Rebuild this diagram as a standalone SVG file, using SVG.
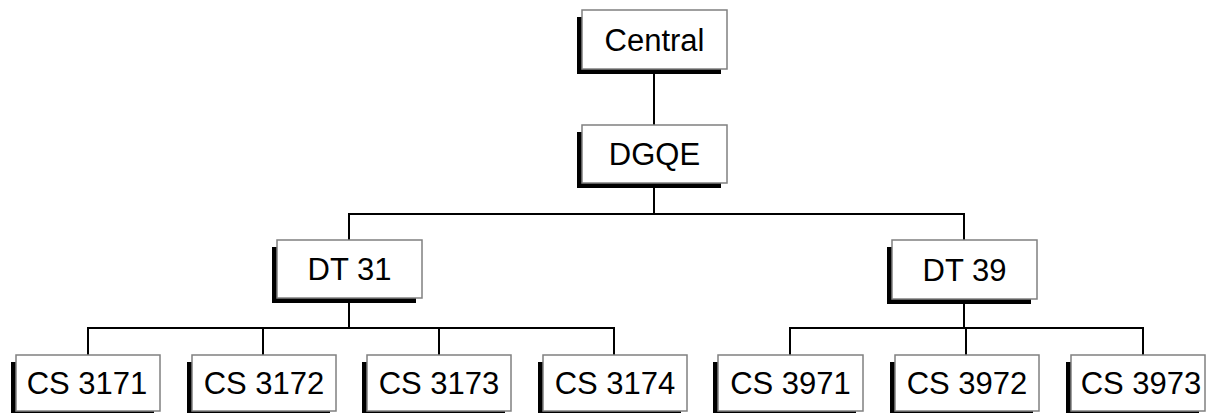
<svg xmlns="http://www.w3.org/2000/svg" width="1207" height="413" viewBox="0 0 1207 413">
  <style>
    .box { fill: #ffffff; stroke: #808080; stroke-width: 1.5; }
    .shadow { fill: #000000; }
    .label { font-family: "Liberation Sans", Arial, sans-serif; font-size: 31px; fill: #000000; text-anchor: middle; }
    .wire { fill: none; stroke: #000000; stroke-width: 2; }
  </style>

  <!-- connectors -->
  <g id="connectors">
    <path class="wire" d="M654,69 V125"/>
    <path class="wire" d="M654,183 V214"/>
    <path class="wire" d="M349,240 V214 H964 V240"/>
    <path class="wire" d="M349,298 V328"/>
    <path class="wire" d="M88,355 V328 H614 V355"/>
    <path class="wire" d="M263,328 V355"/>
    <path class="wire" d="M439,328 V355"/>
    <path class="wire" d="M964,299 V328"/>
    <path class="wire" d="M790,355 V328 H1143 V355"/>
    <path class="wire" d="M966,328 V355"/>
  </g>

  <!-- top level -->
  <g id="central">
    <rect class="shadow" x="577" y="17" width="144" height="57"/>
    <rect class="box" x="582" y="10" width="145" height="59"/>
    <text class="label" x="654.5" y="50.5">Central</text>
  </g>

  <g id="dgqe">
    <rect class="shadow" x="577" y="132" width="144" height="56"/>
    <rect class="box" x="582" y="125" width="145" height="58"/>
    <text class="label" x="654.5" y="165">DGQE</text>
  </g>

  <!-- second level -->
  <g id="dt31">
    <rect class="shadow" x="272" y="247" width="144" height="56"/>
    <rect class="box" x="277" y="240" width="145" height="58"/>
    <text class="label" x="349.5" y="280">DT 31</text>
  </g>

  <g id="dt39">
    <rect class="shadow" x="887" y="247" width="144" height="57"/>
    <rect class="box" x="892" y="240" width="145" height="59"/>
    <text class="label" x="964.5" y="280.5">DT 39</text>
  </g>

  <!-- third level -->
  <g id="cs3171">
    <rect class="shadow" x="11" y="362" width="143" height="56"/>
    <rect class="box" x="16" y="355" width="144" height="56"/>
    <text class="label" x="87" y="394">CS 3171</text>
  </g>

  <g id="cs3172">
    <rect class="shadow" x="187" y="362" width="143" height="56"/>
    <rect class="box" x="192" y="355" width="144" height="56"/>
    <text class="label" x="264" y="394">CS 3172</text>
  </g>

  <g id="cs3173">
    <rect class="shadow" x="362" y="362" width="143" height="56"/>
    <rect class="box" x="367" y="355" width="144" height="56"/>
    <text class="label" x="439" y="394">CS 3173</text>
  </g>

  <g id="cs3174">
    <rect class="shadow" x="538" y="362" width="143" height="56"/>
    <rect class="box" x="543" y="355" width="144" height="56"/>
    <text class="label" x="615" y="394">CS 3174</text>
  </g>

  <g id="cs3971">
    <rect class="shadow" x="713" y="362" width="143" height="56"/>
    <rect class="box" x="718" y="355" width="145" height="56"/>
    <text class="label" x="790.5" y="394">CS 3971</text>
  </g>

  <g id="cs3972">
    <rect class="shadow" x="890" y="362" width="143" height="56"/>
    <rect class="box" x="895" y="355" width="144" height="56"/>
    <text class="label" x="967" y="394">CS 3972</text>
  </g>

  <g id="cs3973">
    <rect class="shadow" x="1066" y="362" width="133" height="56"/>
    <rect class="box" x="1071" y="355" width="134" height="56"/>
    <text class="label" x="1141" y="394">CS 3973</text>
  </g>
</svg>
